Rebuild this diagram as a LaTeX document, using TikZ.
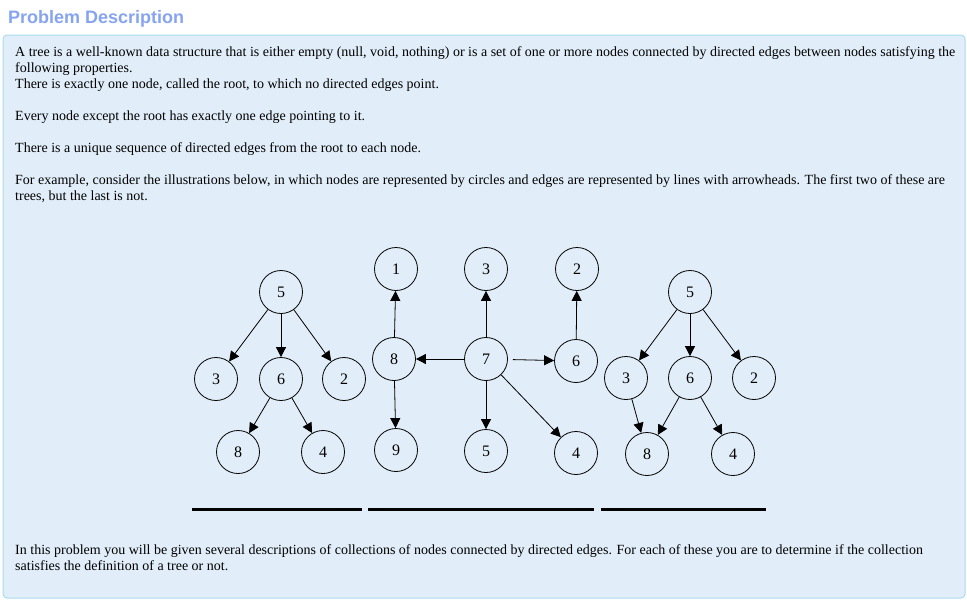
\documentclass[tikz,border=0pt]{standalone}
\usepackage{fontspec}
\setmainfont{Liberation Serif}
\setsansfont{Liberation Sans}
\usetikzlibrary{arrows.meta}

\definecolor{panelfill}{HTML}{E1EEF9}
\definecolor{panelline}{HTML}{A8DDEE}
\definecolor{titleblue}{HTML}{86A4F2}

\begin{document}
\begin{tikzpicture}[x=1pt,y=-1pt,
  vertex/.style={draw, circle, minimum size=43pt, inner sep=0pt,
    line width=0.8pt, font=\fontsize{16}{16}\selectfont},
  edge/.style={-{Triangle[length=10pt,width=10pt]}, line width=0.8pt},
  textline/.style={anchor=base west, inner sep=0pt,
    font=\fontsize{14}{16}\selectfont},
  bar/.style={line width=3pt}
]

\useasboundingbox (0,0) rectangle (967,600);
\fill[white] (0,0) rectangle (967,600);

% Panel and title
\draw[panelline, fill=panelfill, line width=1pt, rounded corners=4pt]
  (3,35) rectangle (965,598);

\node[
  anchor=base west, inner sep=0pt, text=titleblue,
  font=\sffamily\bfseries\fontsize{18}{18}\selectfont
] (title) at (8,23) {Problem Description};

% Text above the pictures
\node[textline] (par1a) at (15,56) {A tree is a well-known data structure that is either empty (null, void, nothing) or is a set of one or more nodes connected by directed edges between nodes satisfying the};
\node[textline] (par1b) at (15,72) {following properties.};
\node[textline] (par1c) at (15,88) {There is exactly one node, called the root, to which no directed edges point.};
\node[textline] (par2) at (15,120) {Every node except the root has exactly one edge pointing to it.};
\node[textline] (par3) at (15,152) {There is a unique sequence of directed edges from the root to each node.};
\node[textline] (par4a) at (15,184) {For example, consider the illustrations below, in which nodes are represented by circles and edges are represented by lines with arrowheads. The first two of these are};
\node[textline] (par4b) at (15,200) {trees, but the last is not.};

% Left tree
\node[vertex] (left5) at (281,292) {5};
\node[vertex] (left3) at (216,379) {3};
\node[vertex] (left6) at (281,379) {6};
\node[vertex] (left2) at (344,379) {2};
\node[vertex] (left8) at (238,452) {8};
\node[vertex] (left4) at (323,452) {4};

\draw[edge] (left5) -- (left3);
\draw[edge] (left5) -- (left6);
\draw[edge] (left5) -- (left2);
\draw[edge] (left6) -- (left8);
\draw[edge] (left6) -- (left4);

% Middle tree
\node[vertex] (mid1) at (396,269) {1};
\node[vertex] (mid3) at (486,269) {3};
\node[vertex] (mid2) at (577,269) {2};
\node[vertex] (mid8) at (394,359) {8};
\node[vertex] (mid7) at (486,359) {7};
\node[vertex] (mid6) at (576,361) {6};
\node[vertex] (mid9) at (396,450) {9};
\node[vertex] (mid5) at (486,451) {5};
\node[vertex] (mid4) at (576,453) {4};

\draw[edge] (mid8) -- (mid1);
\draw[edge] (mid7) -- (mid8);
\draw[edge] (mid7) -- (mid3);
\draw[edge, shorten <=5pt] (mid7) -- (mid6);
\draw[edge] (mid6) -- (mid2);
\draw[edge] (mid8) -- (mid9);
\draw[edge] (mid7) -- (mid5);
\draw[edge] (mid7) -- (mid4);

% Right collection (not a tree)
\node[vertex] (right5) at (690,292) {5};
\node[vertex] (right3) at (626,378) {3};
\node[vertex] (right6) at (690,378) {6};
\node[vertex] (right2) at (754,378) {2};
\node[vertex] (right8) at (647,454) {8};
\node[vertex] (right4) at (733,454) {4};

\draw[edge] (right5) -- (right3);
\draw[edge] (right5) -- (right6);
\draw[edge] (right5) -- (right2);
\draw[edge] (right3) -- (right8);
\draw[edge] (right6) -- (right8);
\draw[edge] (right6) -- (right4);

% Bars under the pictures
\draw[bar] (192,509) -- (362,509);
\draw[bar] (368,509) -- (594,509);
\draw[bar] (601,509) -- (766,509);

% Text below the pictures
\node[textline] (par5a) at (15,554) {In this problem you will be given several descriptions of collections of nodes connected by directed edges. For each of these you are to determine if the collection};
\node[textline] (par5b) at (15,570) {satisfies the definition of a tree or not.};

\end{tikzpicture}
\end{document}
